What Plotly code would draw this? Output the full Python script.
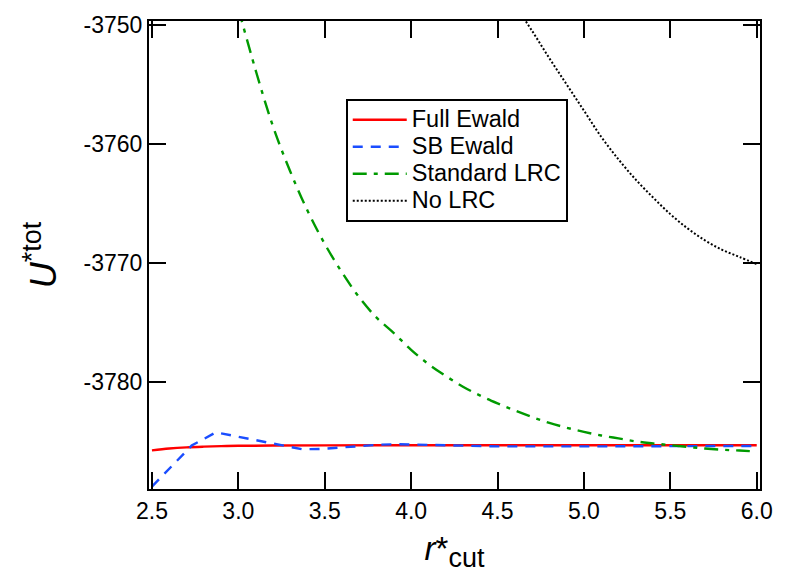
import plotly.graph_objects as go

# ---- data ----
r_full = [2.5, 2.6, 2.7, 2.8, 2.9, 3.0, 3.2, 3.5, 4.0, 4.5, 5.0, 5.5, 6.0]
u_full = [-3785.75, -3785.60, -3785.50, -3785.44, -3785.40, -3785.37, -3785.35,
          -3785.33, -3785.32, -3785.32, -3785.32, -3785.32, -3785.32]

r_sb = [2.5, 2.73, 2.87, 3.0, 3.15, 3.37, 3.485, 3.6, 3.71, 3.82, 3.925, 4.04,
        4.145, 4.3, 4.5, 5.0, 5.5, 6.0]
u_sb = [-3788.8, -3785.35, -3784.24, -3784.62, -3785.06, -3785.66, -3785.63,
        -3785.49, -3785.35, -3785.27, -3785.24, -3785.27, -3785.33, -3785.40,
        -3785.42, -3785.42, -3785.40, -3785.38]

r_std = [3.0, 3.1, 3.2, 3.3, 3.4, 3.5, 3.6, 3.7, 3.8, 3.9, 4.0, 4.1, 4.2, 4.3,
         4.4, 4.5, 4.6, 4.7, 4.8, 4.9, 5.0, 5.1, 5.2, 5.3, 5.4, 5.5, 5.6, 5.7,
         5.8, 5.9, 6.0]
u_std = [-3748.6, -3753.8, -3758.5, -3762.3, -3765.6, -3768.4, -3770.8, -3772.9,
         -3774.6, -3775.9, -3777.3, -3778.5, -3779.5, -3780.4, -3781.15, -3781.8,
         -3782.4, -3782.95, -3783.45, -3783.85, -3784.2, -3784.5, -3784.75,
         -3785.0, -3785.17, -3785.32, -3785.46, -3785.6, -3785.7, -3785.77,
         -3785.85]

r_nolrc = [4.6, 4.7, 4.8, 4.9, 5.0, 5.1, 5.2, 5.3, 5.4, 5.5, 5.6, 5.7, 5.8, 5.9, 6.0]
u_nolrc = [-3748.3, -3750.5, -3752.8, -3755.0, -3757.2, -3759.4, -3761.3, -3763.0,
           -3764.5, -3765.9, -3767.1, -3768.1, -3768.9, -3769.5, -3770.1]

x_ticks = [2.5, 3.0, 3.5, 4.0, 4.5, 5.0, 5.5, 6.0]
x_ticklabels = ["2.5", "3.0", "3.5", "4.0", "4.5", "5.0", "5.5", "6.0"]
y_ticks = [-3780, -3770, -3760, -3750]
y_ticklabels = ["-3780", "-3770", "-3760", "-3750"]

series_names = ["Full Ewald", "SB Ewald", "Standard LRC", "No LRC"]

FONT = "Liberation Sans, Arial, sans-serif"


def big(txt):
    return "<span style='font-size:23.5px'>" + txt + "</span>"


fig = go.Figure()
fig.add_trace(go.Scatter(x=r_full, y=u_full, mode="lines", name=big(series_names[0]),
                         line=dict(color="#ff0000", width=2.4, shape="spline")))
fig.add_trace(go.Scatter(x=r_sb, y=u_sb, mode="lines", name=big(series_names[1]),
                         line=dict(color="#1a4dff", width=2.4, dash="10px,8px")))
fig.add_trace(go.Scatter(x=r_std, y=u_std, mode="lines", name=big(series_names[2]),
                         line=dict(color="#009a00", width=2.4, shape="spline",
                                   dash="14px,7px,4px,7px")))
fig.add_trace(go.Scatter(x=r_nolrc, y=u_nolrc, mode="lines", name=big(series_names[3]),
                         line=dict(color="#000000", width=2, shape="spline",
                                   dash="2px,2px")))

axis_common = dict(
    showline=True, linecolor="black", linewidth=2, mirror="ticks",
    ticks="inside", ticklen=17, tickwidth=2, tickcolor="black",
    showgrid=False, zeroline=False,
    tickfont=dict(family=FONT, size=23, color="black"),
)

fig.update_xaxes(range=[2.483, 6.019], tickvals=x_ticks, ticktext=x_ticklabels,
                 title=dict(text="<i>r</i>*<sub><span style='font-size:27px'>cut</span></sub>",
                            font=dict(family=FONT, size=33, color="black"),
                            standoff=14),
                 **axis_common)
fig.update_yaxes(range=[-3789.0, -3749.67], tickvals=y_ticks, ticktext=y_ticklabels,
                 title=dict(text="<i>U</i><sup><span style='font-size:27px'>*tot</span></sup>",
                            font=dict(family=FONT, size=36, color="black"),
                            standoff=16),
                 **axis_common)

fig.update_layout(
    width=785, height=575,
    margin=dict(l=149, r=16, t=15, b=86),
    paper_bgcolor="white", plot_bgcolor="white",
    font=dict(family=FONT, color="black"),
    legend=dict(x=0.322, y=0.833, xanchor="left", yanchor="top",
                bgcolor="white", bordercolor="black", borderwidth=2,
                font=dict(family=FONT, size=18.5, color="black"),
                tracegroupgap=0, itemwidth=54),
)

fig.write_html("out.html")
